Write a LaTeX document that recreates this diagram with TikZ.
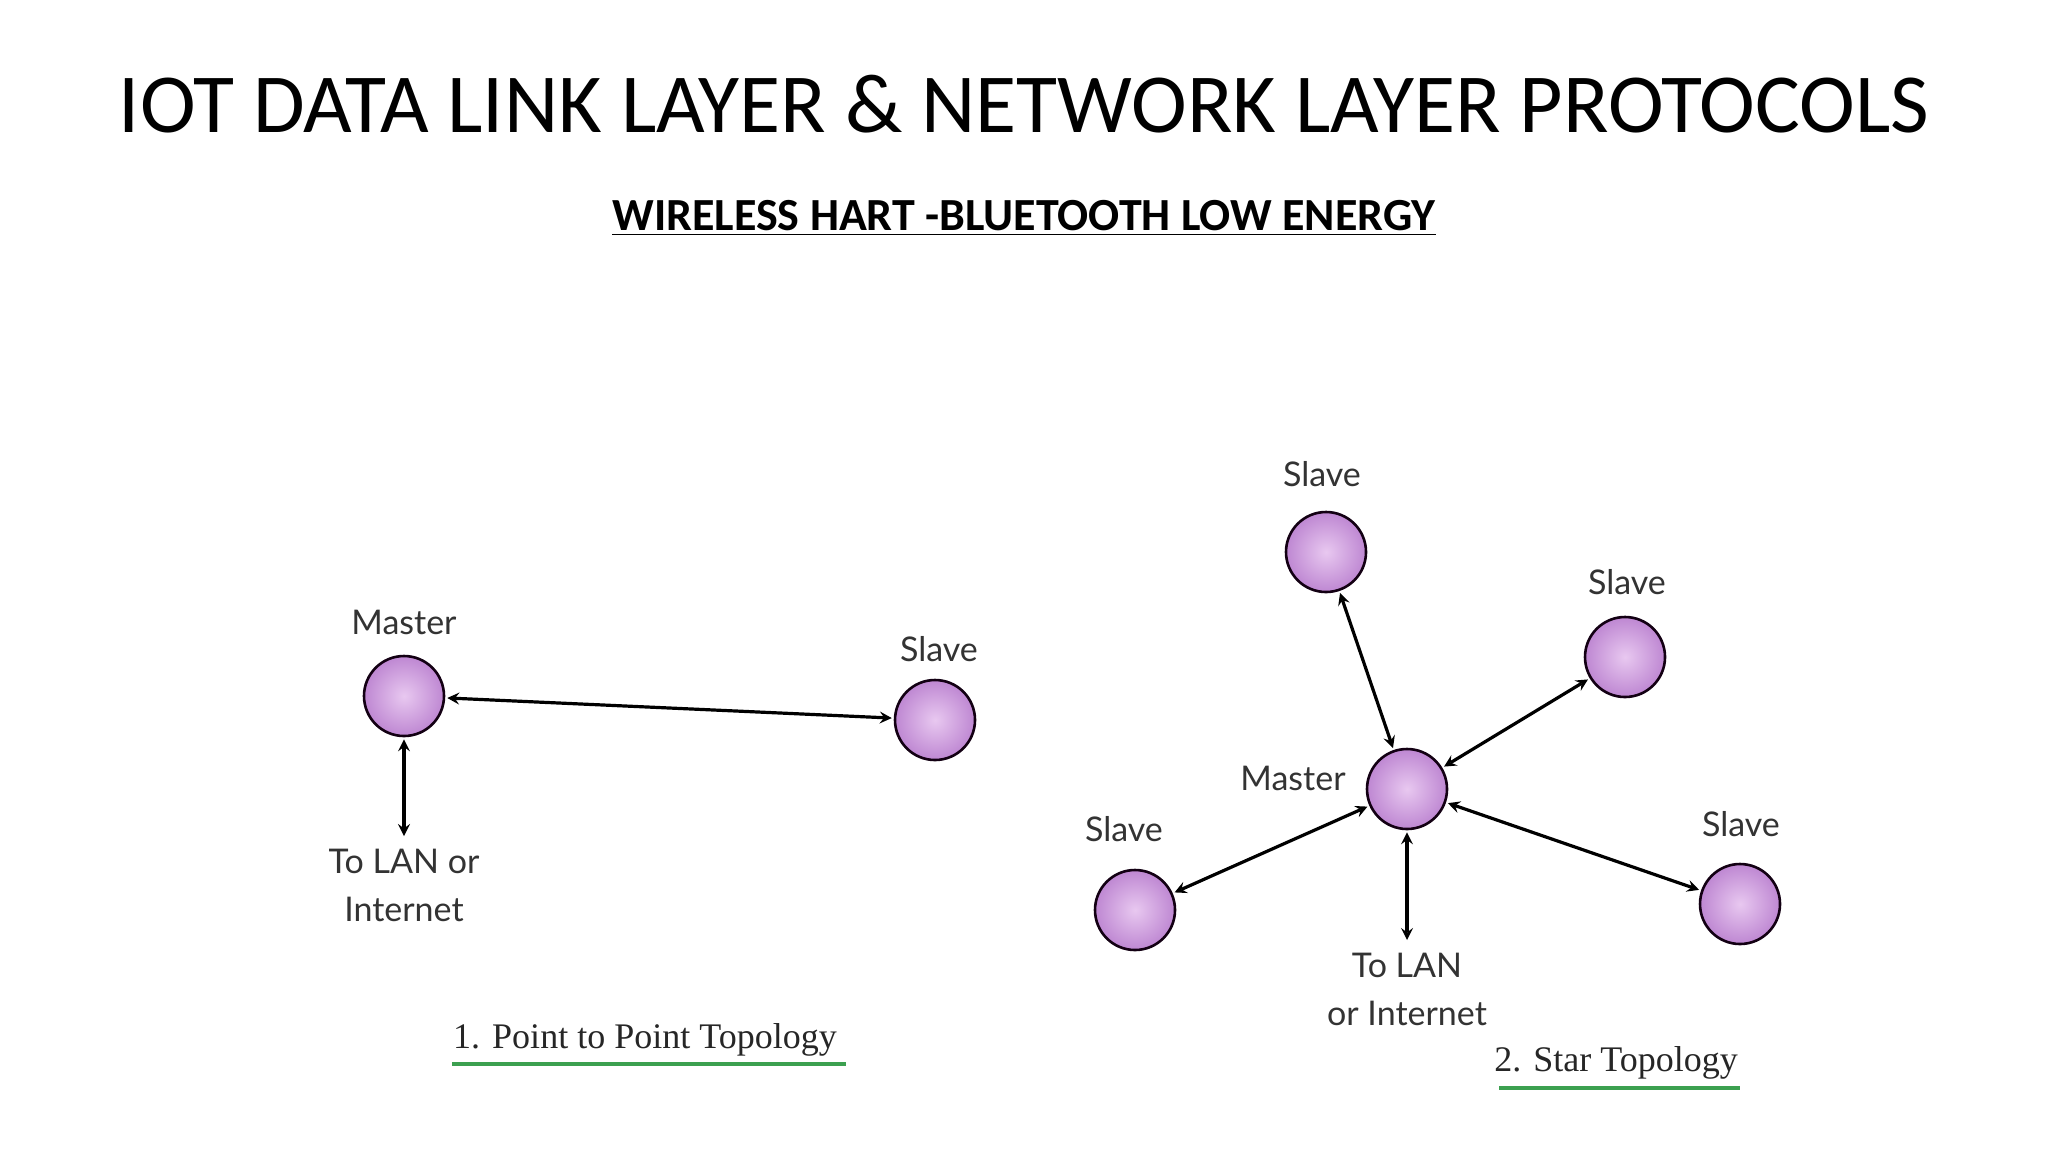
\documentclass[tikz,border=0pt]{standalone}
\usepackage{fontspec}
\setmainfont{Carlito}
\newfontfamily\lbl{Lato}
\newfontfamily\capf{Liberation Serif}
\usetikzlibrary{arrows, positioning}
\definecolor{orb}{RGB}{190,135,210}
\definecolor{orbhi}{RGB}{232,200,240}
\definecolor{uline}{RGB}{60,160,80}
\begin{document}
\begin{tikzpicture}[
  x = 0.5pt, y = -0.5pt,       % pixel grid of the slide
  > = stealth,                 % arrow head style
  semithick
  ]
  \tikzstyle{orb}=[      % Defines style for the spheres
  circle, draw = black!85!violet, line width = 1.3pt,
  inner color = orbhi, outer color = orb, minimum size = 40pt, inner sep = 0pt
  ]
  \tikzstyle{lab}=[font = \lbl\fontsize{17}{24}\selectfont, text = black!80]
  \tikzstyle{caption}=[font = \capf\fontsize{18}{20}\selectfont, text = black!85]
  \tikzstyle{link}=[<->, line width = 1.6pt, shorten > = 1pt, shorten < = 1pt]

  \useasboundingbox (0,0) rectangle (2048,1152);

  % Titles
  \node (title) at (1024,104) {\fontsize{42}{46}\selectfont IOT DATA LINK LAYER \& NETWORK LAYER PROTOCOLS};
  \node (sub) at (1024,218) {\fontsize{23}{26}\selectfont\bfseries\underline{WIRELESS HART -BLUETOOTH LOW ENERGY}};

  % Point to point
  \node[orb] (pm) at (404,696) {};
  \node[orb] (ps) at (935,720) {};
  \node[lab] (pml) at (404,622) {Master};
  \node[lab] (psl) at (939,649) {Slave};
  \coordinate (pn) at (404,838);
  \node[lab, align=center, below=2pt of pn] (pnl) {To LAN or\\Internet};
  \path[link] (pm) edge (ps);
  \path[link] (pm) edge (pn);
  \node[caption] (pcap) at (645,1040) {1. Point to Point Topology};
  \draw[uline, line width = 1.6pt] (452,1064) -- (846,1064);

  % Star
  \node[orb] (sm) at (1407,789) {};
  \node[orb] (s1) at (1326,552) {};
  \node[orb] (s2) at (1625,657) {};
  \node[orb] (s3) at (1740,904) {};
  \node[orb] (s4) at (1135,910) {};
  \node[lab] (sml) at (1293,778) {Master};
  \node[lab] (s1l) at (1322,474) {Slave};
  \node[lab] (s2l) at (1627,582) {Slave};
  \node[lab] (s3l) at (1741,824) {Slave};
  \node[lab] (s4l) at (1124,829) {Slave};
  \coordinate (sn) at (1407,942);
  \node[lab, align=center, below=2pt of sn] (snl) {To LAN\\or Internet};
  \foreach \s in {s1,s2,s3,s4,sn}
    \path[link] (sm) edge (\s);
  \node[caption] (scap) at (1616,1063) {2. Star Topology};
  \draw[uline, line width = 1.6pt] (1499,1088) -- (1740,1088);
\end{tikzpicture}
\end{document}
